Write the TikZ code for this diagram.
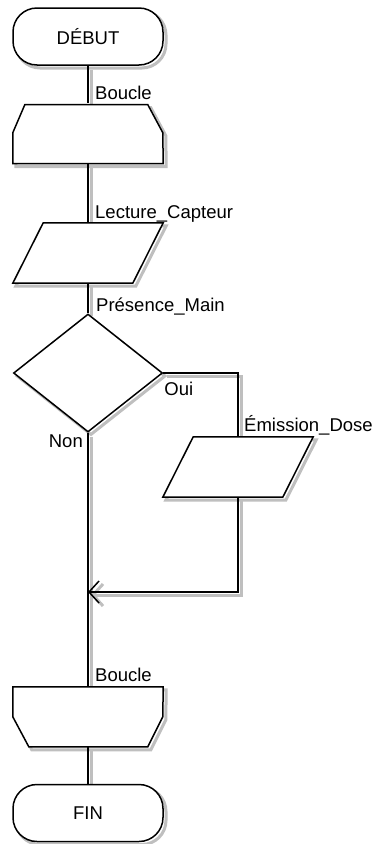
\documentclass[tikz,border=0pt]{standalone}
\usepackage{fontspec}
\setmainfont{Liberation Sans}
\usetikzlibrary{positioning, calc, shapes.geometric, arrows.meta}

\newcommand{\termtext}[1]{#1}
\newcommand{\chartpaths}{%
	\node[ghost] (boucleA) at (88,133.5) {};
	\node[ghost] (lecture) at (88,253) {};
	\node[ghost] (emission) at (238,467) {};
	\node[ghost] (boucleB) at (88,717) {};
	\coordinate (merge) at (88,592);
	\node[terminal] (debut) at (88,36.5) {\termtext{DÉBUT}};
	\draw[block] (boucleA.south west) -- ++(0,-31) -- ++(12,-28) -- ++(123,0) -- ++(15,28) -- (boucleA.south east) -- cycle;
	\draw[block] (lecture.south west) -- ++(\edgew,0) -- (lecture.north east) -- ++(-\edgew,0) -- cycle;
	\node[decision] (presence) at (88,373) {};
	\draw[block] (emission.south west) -- ++(\edgew,0) -- (emission.north east) -- ++(-\edgew,0) -- cycle;
	\draw[block] (boucleB.north west) -- ++(0,30) -- ++(16,30) -- ++(119,0) -- ++(15,-30) -- (boucleB.north east) -- cycle;
	\node[terminal] (fin) at (88,813) {\termtext{FIN}};
	% connectors
	\draw[flow] (debut.south) -- (boucleA.north);
	\draw[flow] (boucleA.south) -- (lecture.north);
	\draw[flow] (lecture.south) -- (presence.north);
	\draw[flow] (presence.south) -- (boucleB.north);
	\draw[flow] (presence.east) -| (emission.north);
	\draw[flow, -{Straight Barb[length=10pt, width=22pt]}] (emission.south) |- (merge);
	\draw[flow] (boucleB.south) -- (fin.north);
}

\begin{document}
\begin{tikzpicture}[x=1pt, y=-1pt,
	block/.style={draw=black, line width=1.5pt, fill=white},
	flow/.style={draw=black, line width=1.5pt},
	ghost/.style={draw=none, fill=none, inner sep=0pt, minimum width=150pt, minimum height=60pt},
	terminal/.style={block, rounded corners=24pt, minimum width=150pt, minimum height=57pt, inner sep=0pt, font=\fontsize{18.5}{20}\selectfont},
	decision/.style={block, diamond, inner sep=0pt, minimum width=149pt, minimum height=118pt},
	lbl/.style={inner sep=0pt, font=\fontsize{18.5}{20}\selectfont}]
	\useasboundingbox (0,0) rectangle (373,844);
	\pgfmathsetmacro{\edgew}{120}

	% shadow pass
	\begin{scope}[shift={(3,3)}, name prefix=s-,
		block/.style={draw=black!25, line width=3pt, fill=none},
		flow/.style={draw=black!25, line width=3pt}]
		\renewcommand{\termtext}[1]{}
		\chartpaths
	\end{scope}
	\chartpaths

	% labels
	\node[lbl, anchor=base west] (lblBoucleA) at ($(boucleA.north)+(7,-4)$) {Boucle};
	\node[lbl, anchor=base west] (lblLecture) at ($(lecture.north)+(7,-4)$) {Lecture\_Capteur};
	\node[lbl, anchor=base west] (lblPresence) at ($(presence.north)+(8,-2)$) {Présence\_Main};
	\node[lbl, anchor=base west] (lblOui) at ($(presence.east)+(1,22)$) {Oui};
	\node[lbl, anchor=base east] (lblNon) at ($(presence.south)+(-5,15)$) {Non};
	\node[lbl, anchor=base west] (lblEmission) at ($(emission.north)+(6,-5)$) {Émission\_Dose};
	\node[lbl, anchor=base west] (lblBoucleB) at ($(boucleB.north)+(7,-5)$) {Boucle};
\end{tikzpicture}
\end{document}
